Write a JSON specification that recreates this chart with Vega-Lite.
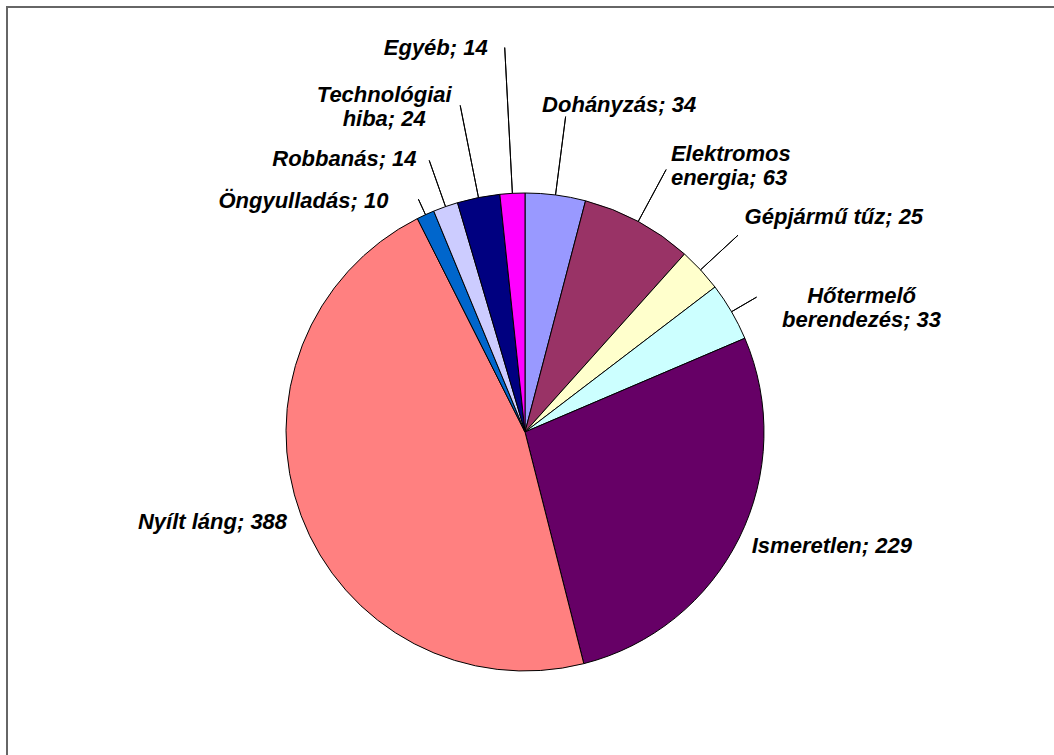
{
  "$schema": "https://vega.github.io/schema/vega-lite/v6.json",
  "width": 1048,
  "height": 850,
  "autosize": {"type": "none"},
  "padding": {"left": 7, "top": 7, "right": 0, "bottom": 0},
  "background": "white",
  "view": {"stroke": "#666666", "strokeWidth": 2},
  "config": {
    "text": {"font": "Liberation Sans", "fontSize": 22, "fontStyle": "italic", "fontWeight": "bold", "lineBreak": "\n", "lineHeight": 24, "baseline": "middle", "color": "black"}
  },
  "data": {
    "values": [
      {"k": 1, "cause": "Dohányzás", "value": 34, "label": "Dohányzás; 34"},
      {"k": 2, "cause": "Elektromos energia", "value": 63, "label": "Elektromos\nenergia; 63"},
      {"k": 3, "cause": "Gépjármű tűz", "value": 25, "label": "Gépjármű tűz; 25"},
      {"k": 4, "cause": "Hőtermelő berendezés", "value": 33, "label": "Hőtermelő\nberendezés; 33"},
      {"k": 5, "cause": "Ismeretlen", "value": 229, "label": "Ismeretlen; 229"},
      {"k": 6, "cause": "Nyílt láng", "value": 388, "label": "Nyílt láng; 388"},
      {"k": 7, "cause": "Öngyulladás", "value": 10, "label": "Öngyulladás; 10"},
      {"k": 8, "cause": "Robbanás", "value": 14, "label": "Robbanás; 14"},
      {"k": 9, "cause": "Technológiai hiba", "value": 24, "label": "Technológiai\nhiba; 24"},
      {"k": 10, "cause": "Egyéb", "value": 14, "label": "Egyéb; 14"}
    ]
  },
  "encoding": {
    "theta": {"field": "value", "type": "quantitative", "stack": true},
    "order": {"field": "k", "type": "quantitative", "sort": "ascending"}
  },
  "layer": [
    {
      "mark": {"type": "arc", "xOffset": -6, "radius": 239, "stroke": "black", "strokeWidth": 1},
      "encoding": {
        "color": {
          "field": "cause", "type": "nominal", "legend": null,
          "scale": {
            "domain": ["Dohányzás", "Elektromos energia", "Gépjármű tűz", "Hőtermelő berendezés", "Ismeretlen", "Nyílt láng", "Öngyulladás", "Robbanás", "Technológiai hiba", "Egyéb"],
            "range": ["#9999FF", "#993366", "#FFFFCC", "#CCFFFF", "#660066", "#FF8080", "#0066CC", "#CCCCFF", "#000080", "#FF00FF"]
          }
        }
      }
    },
    {"mark": {"type": "arc", "xOffset": -6, "radius": 318, "radius2": 239, "padAngle": 3.1416, "filled": false, "stroke": "black", "strokeWidth": 1},
     "encoding": {"strokeOpacity": {"condition": {"test": "datum.k === 1", "value": 1}, "value": 0}}},
    {"mark": {"type": "arc", "xOffset": -6, "radius": 298, "radius2": 239, "padAngle": 3.1416, "filled": false, "stroke": "black", "strokeWidth": 1},
     "encoding": {"strokeOpacity": {"condition": {"test": "datum.k === 2", "value": 1}, "value": 0}}},
    {"mark": {"type": "arc", "xOffset": -6, "radius": 290, "radius2": 239, "padAngle": 3.1416, "filled": false, "stroke": "black", "strokeWidth": 1},
     "encoding": {"strokeOpacity": {"condition": {"test": "datum.k === 3", "value": 1}, "value": 0}}},
    {"mark": {"type": "arc", "xOffset": -6, "radius": 268, "radius2": 239, "padAngle": 3.1416, "filled": false, "stroke": "black", "strokeWidth": 1},
     "encoding": {"strokeOpacity": {"condition": {"test": "datum.k === 4", "value": 1}, "value": 0}}},
    {"mark": {"type": "arc", "xOffset": -6, "radius": 256, "radius2": 239, "padAngle": 3.1416, "filled": false, "stroke": "black", "strokeWidth": 1},
     "encoding": {"strokeOpacity": {"condition": {"test": "datum.k === 7", "value": 1}, "value": 0}}},
    {"mark": {"type": "arc", "xOffset": -6, "radius": 288, "radius2": 239, "padAngle": 3.1416, "filled": false, "stroke": "black", "strokeWidth": 1},
     "encoding": {"strokeOpacity": {"condition": {"test": "datum.k === 8", "value": 1}, "value": 0}}},
    {"mark": {"type": "arc", "xOffset": -6, "radius": 333, "radius2": 239, "padAngle": 3.1416, "filled": false, "stroke": "black", "strokeWidth": 1},
     "encoding": {"strokeOpacity": {"condition": {"test": "datum.k === 9", "value": 1}, "value": 0}}},
    {"mark": {"type": "arc", "xOffset": -6, "radius": 385, "radius2": 239, "padAngle": 3.1416, "filled": false, "stroke": "black", "strokeWidth": 1},
     "encoding": {"strokeOpacity": {"condition": {"test": "datum.k === 10", "value": 1}, "value": 0}}},
    {"mark": {"type": "text", "xOffset": -6, "radius": 330, "dx": 52, "dy": 0, "align": "center"},
     "encoding": {"text": {"condition": {"test": "datum.k === 1", "field": "label", "type": "nominal"}, "value": ""}}},
    {"mark": {"type": "text", "xOffset": -6, "radius": 306, "dx": 1, "dy": -9, "align": "left"},
     "encoding": {"text": {"condition": {"test": "datum.k === 2", "field": "label", "type": "nominal"}, "value": ""}}},
    {"mark": {"type": "text", "xOffset": -6, "radius": 299, "dx": 0, "dy": -12, "align": "left"},
     "encoding": {"text": {"condition": {"test": "datum.k === 3", "field": "label", "type": "nominal"}, "value": ""}}},
    {"mark": {"type": "text", "xOffset": -6, "radius": 268, "dx": 105, "dy": -1, "align": "center"},
     "encoding": {"text": {"condition": {"test": "datum.k === 4", "field": "label", "type": "nominal"}, "value": ""}}},
    {"mark": {"type": "text", "xOffset": -6, "radius": 253, "dx": 0, "dy": 2, "align": "left"},
     "encoding": {"text": {"condition": {"test": "datum.k === 5", "field": "label", "type": "nominal"}, "value": ""}}},
    {"mark": {"type": "text", "xOffset": -6, "radius": 254, "dx": 0, "dy": 1, "align": "right"},
     "encoding": {"text": {"condition": {"test": "datum.k === 6", "field": "label", "type": "nominal"}, "value": ""}}},
    {"mark": {"type": "text", "xOffset": -6, "radius": 256, "dx": -30, "dy": 2, "align": "right"},
     "encoding": {"text": {"condition": {"test": "datum.k === 7", "field": "label", "type": "nominal"}, "value": ""}}},
    {"mark": {"type": "text", "xOffset": -6, "radius": 290, "dx": -12, "dy": 0, "align": "right"},
     "encoding": {"text": {"condition": {"test": "datum.k === 8", "field": "label", "type": "nominal"}, "value": ""}}},
    {"mark": {"type": "text", "xOffset": -6, "radius": 333, "dx": -76, "dy": -10, "align": "center"},
     "encoding": {"text": {"condition": {"test": "datum.k === 9", "field": "label", "type": "nominal"}, "value": ""}}},
    {"mark": {"type": "text", "xOffset": -6, "radius": 385, "dx": -17, "dy": 0, "align": "right"},
     "encoding": {"text": {"condition": {"test": "datum.k === 10", "field": "label", "type": "nominal"}, "value": ""}}}
  ]
}
